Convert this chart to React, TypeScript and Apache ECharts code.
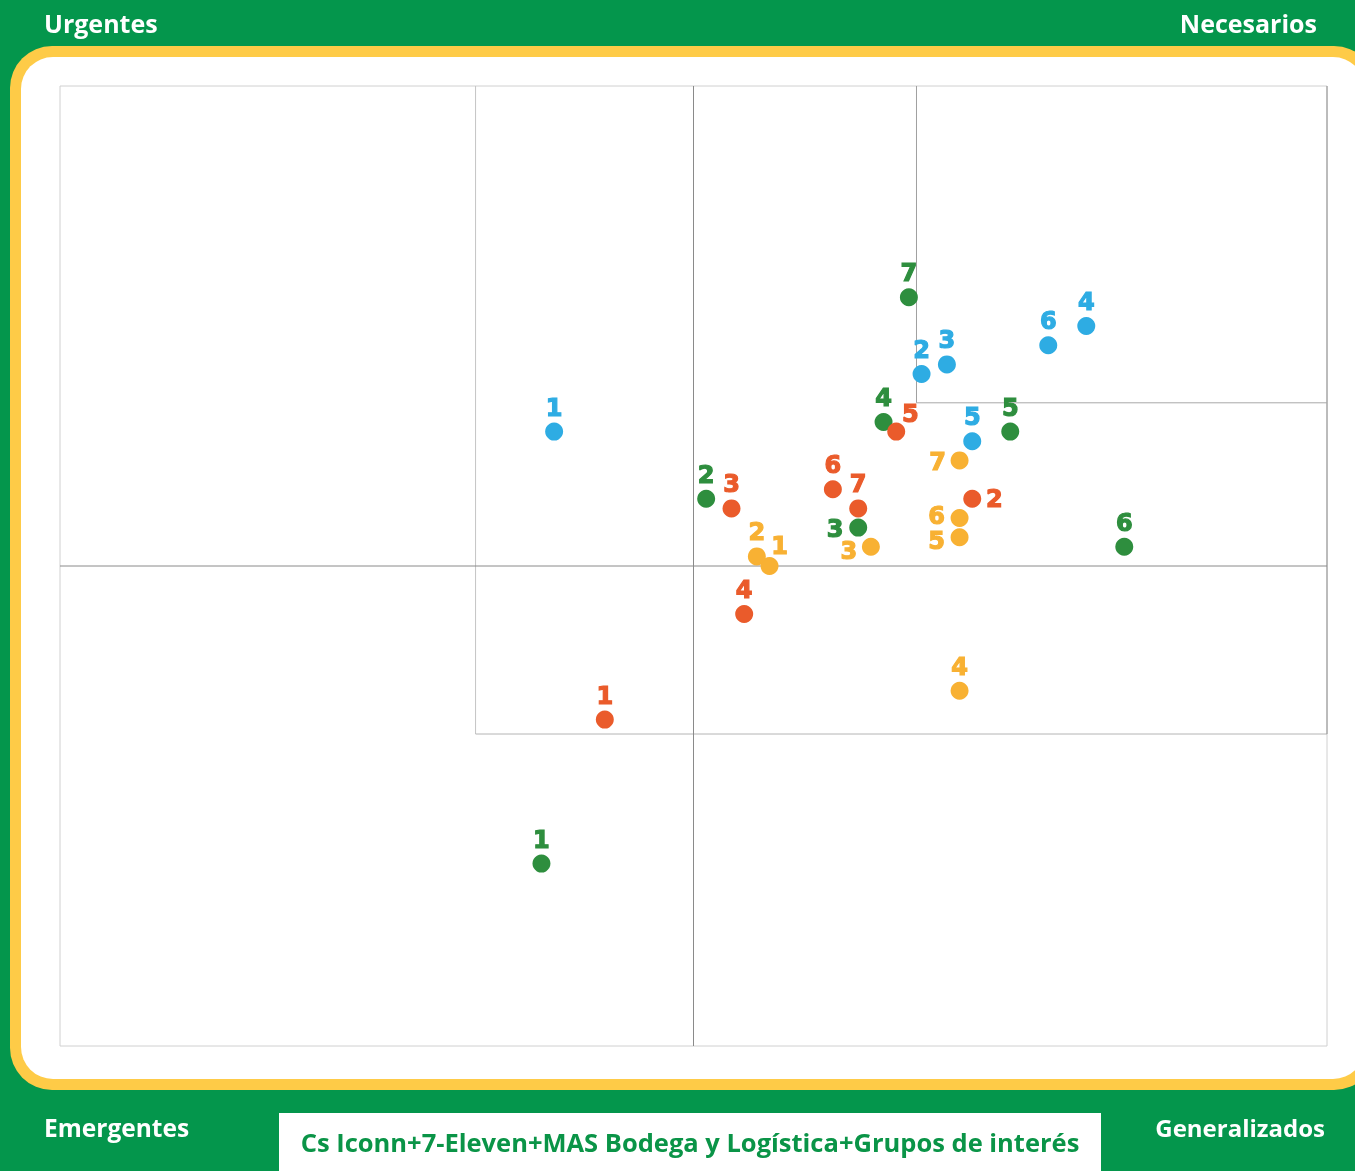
import React, { useEffect, useRef } from "react";
import * as echarts from "echarts";

// ---- data ----
const pointNames = ["1", "2", "3", "4", "5", "6", "7"];

const blueX = [39, 68, 70, 81, 72, 78];
const blueY = [64, 70, 71, 75, 63, 73];

const greenX = [38, 51, 63, 65, 75, 84, 67];
const greenY = [19, 57, 54, 65, 64, 52, 78];

const redX = [43, 72, 53, 54, 66, 61, 63];
const redY = [34, 57, 56, 45, 64, 58, 56];

const yellowX = [56, 55, 64, 71, 71, 71, 71];
const yellowY = [50, 51, 52, 37, 53, 55, 61];

// quadrant boundaries (axis units)
const axisMin = 0;
const axisMax = 100;
const centerX = 50;
const centerY = 50;
const innerBoxLeft = 32.8;
const innerBoxBottom = 32.5;
const upperBoxLeft = 67.6;
const upperBoxBottom = 67;

const cornerTopLeft = "Urgentes";
const cornerTopRight = "Necesarios";
const cornerBottomLeft = "Emergentes";
const cornerBottomRight = "Generalizados";
const footerTitle = "Cs Iconn+7-Eleven+MAS Bodega y Logística+Grupos de interés";

// ---- styles ----
const GREEN_BG = "#04964C";
const YELLOW_FRAME = "#FECB47";
const C_BLUE = "#2EACE3";
const C_GREEN = "#2E8E3E";
const C_RED = "#EA5B2B";
const C_YELLOW = "#F8B133";

const TOP_OFFSET = [0, -24];
const labelOffsets: Record<string, Record<number, number[]>> = {
  blue: {},
  green: { 2: [-23, 1] },
  red: { 1: [22, 0], 4: [14, -18] },
  yellow: { 0: [10, -20], 2: [-22, 4], 4: [-23, 4], 5: [-23, -2], 6: [-22, 2] },
};

function buildSeries(key: string, xs: number[], ys: number[], color: string) {
  return {
    type: "scatter",
    name: key,
    symbol: "circle",
    symbolSize: 18,
    itemStyle: { color, opacity: 1 },
    z: 3,
    data: xs.map((x, i) => ({
      value: [x, ys[i]],
      name: pointNames[i],
      label: {
        show: true,
        position: "inside",
        offset: labelOffsets[key][i] || TOP_OFFSET,
        formatter: pointNames[i],
        color,
        fontFamily: "DejaVu Sans",
        fontWeight: "bold",
        fontSize: 24,
        lineHeight: 19,
        textBorderColor: color,
        textBorderWidth: 1.2,
      },
    })),
  };
}

function seg(a: number[], b: number[], color: string) {
  return {
    type: "line",
    data: [a, b],
    symbol: "none",
    silent: true,
    z: 1,
    lineStyle: { color, width: 1 },
  };
}

export default function App() {
  const ref = useRef<HTMLDivElement>(null);

  useEffect(() => {
    if (!ref.current) return;
    const chart = echarts.init(ref.current, undefined, { renderer: "svg" });
    const headerFont = "bold 25px 'Open Sans', sans-serif";
    chart.setOption({
      animation: false,
      graphic: [
        { type: "rect", z: -10, shape: { x: 0, y: 0, width: 1355, height: 1171 }, style: { fill: GREEN_BG } },
        { type: "rect", z: -9, shape: { x: 10, y: 46, width: 1366, height: 1044, r: 42 }, style: { fill: YELLOW_FRAME } },
        { type: "rect", z: -8, shape: { x: 21, y: 57, width: 1344, height: 1022, r: 32 }, style: { fill: "#ffffff" } },
        { type: "text", z: -7, style: { text: cornerTopLeft, x: 44, y: 23, fill: "#fff", font: headerFont, textAlign: "left", textVerticalAlign: "middle", verticalAlign: "middle" } },
        { type: "text", z: -7, style: { text: cornerTopRight, x: 1317, y: 23, fill: "#fff", font: headerFont, textAlign: "right", textVerticalAlign: "middle", verticalAlign: "middle" } },
        { type: "text", z: -7, style: { text: cornerBottomLeft, x: 44, y: 1127, fill: "#fff", font: "bold 24.5px 'Open Sans', sans-serif", textAlign: "left", textVerticalAlign: "middle", verticalAlign: "middle" } },
        { type: "text", z: -7, style: { text: cornerBottomRight, x: 1325, y: 1127, fill: "#fff", font: "bold 24px 'Open Sans', sans-serif", textAlign: "right", textVerticalAlign: "middle", verticalAlign: "middle" } },
        { type: "rect", z: -7, shape: { x: 279, y: 1113, width: 822, height: 60 }, style: { fill: "#ffffff" } },
        { type: "text", z: -6, style: { text: footerTitle, x: 690, y: 1142, fill: "#0A9447", font: "bold 25.5px 'Open Sans', sans-serif", textAlign: "center", textVerticalAlign: "middle", verticalAlign: "middle" } },
      ],
      grid: {
        left: 60,
        top: 86,
        width: 1267,
        height: 960,
        show: true,
        borderColor: "#d0d0d0",
        borderWidth: 1,
        backgroundColor: "transparent",
      },
      xAxis: { type: "value", min: axisMin, max: axisMax, show: false },
      yAxis: { type: "value", min: axisMin, max: axisMax, show: false },
      series: [
        seg([innerBoxLeft, innerBoxBottom], [innerBoxLeft, axisMax], "#c4c4c4"),
        seg([innerBoxLeft, innerBoxBottom], [axisMax, innerBoxBottom], "#b4b4b4"),
        seg([axisMax, innerBoxBottom], [axisMax, axisMax], "#909090"),
        seg([upperBoxLeft, upperBoxBottom], [upperBoxLeft, axisMax], "#a0a0a0"),
        seg([upperBoxLeft, upperBoxBottom], [axisMax, upperBoxBottom], "#a8a8a8"),
        seg([centerX, axisMin], [centerX, axisMax], "#8a8a8a"),
        seg([axisMin, centerY], [axisMax, centerY], "#8a8a8a"),
        buildSeries("green", greenX, greenY, C_GREEN),
        buildSeries("blue", blueX, blueY, C_BLUE),
        buildSeries("red", redX, redY, C_RED),
        buildSeries("yellow", yellowX, yellowY, C_YELLOW),
      ],
    });
    return () => chart.dispose();
  }, []);

  return (
    <div
      ref={ref}
      style={{ position: "fixed", left: 0, top: 0, width: 1355, height: 1171 }}
    />
  );
}
